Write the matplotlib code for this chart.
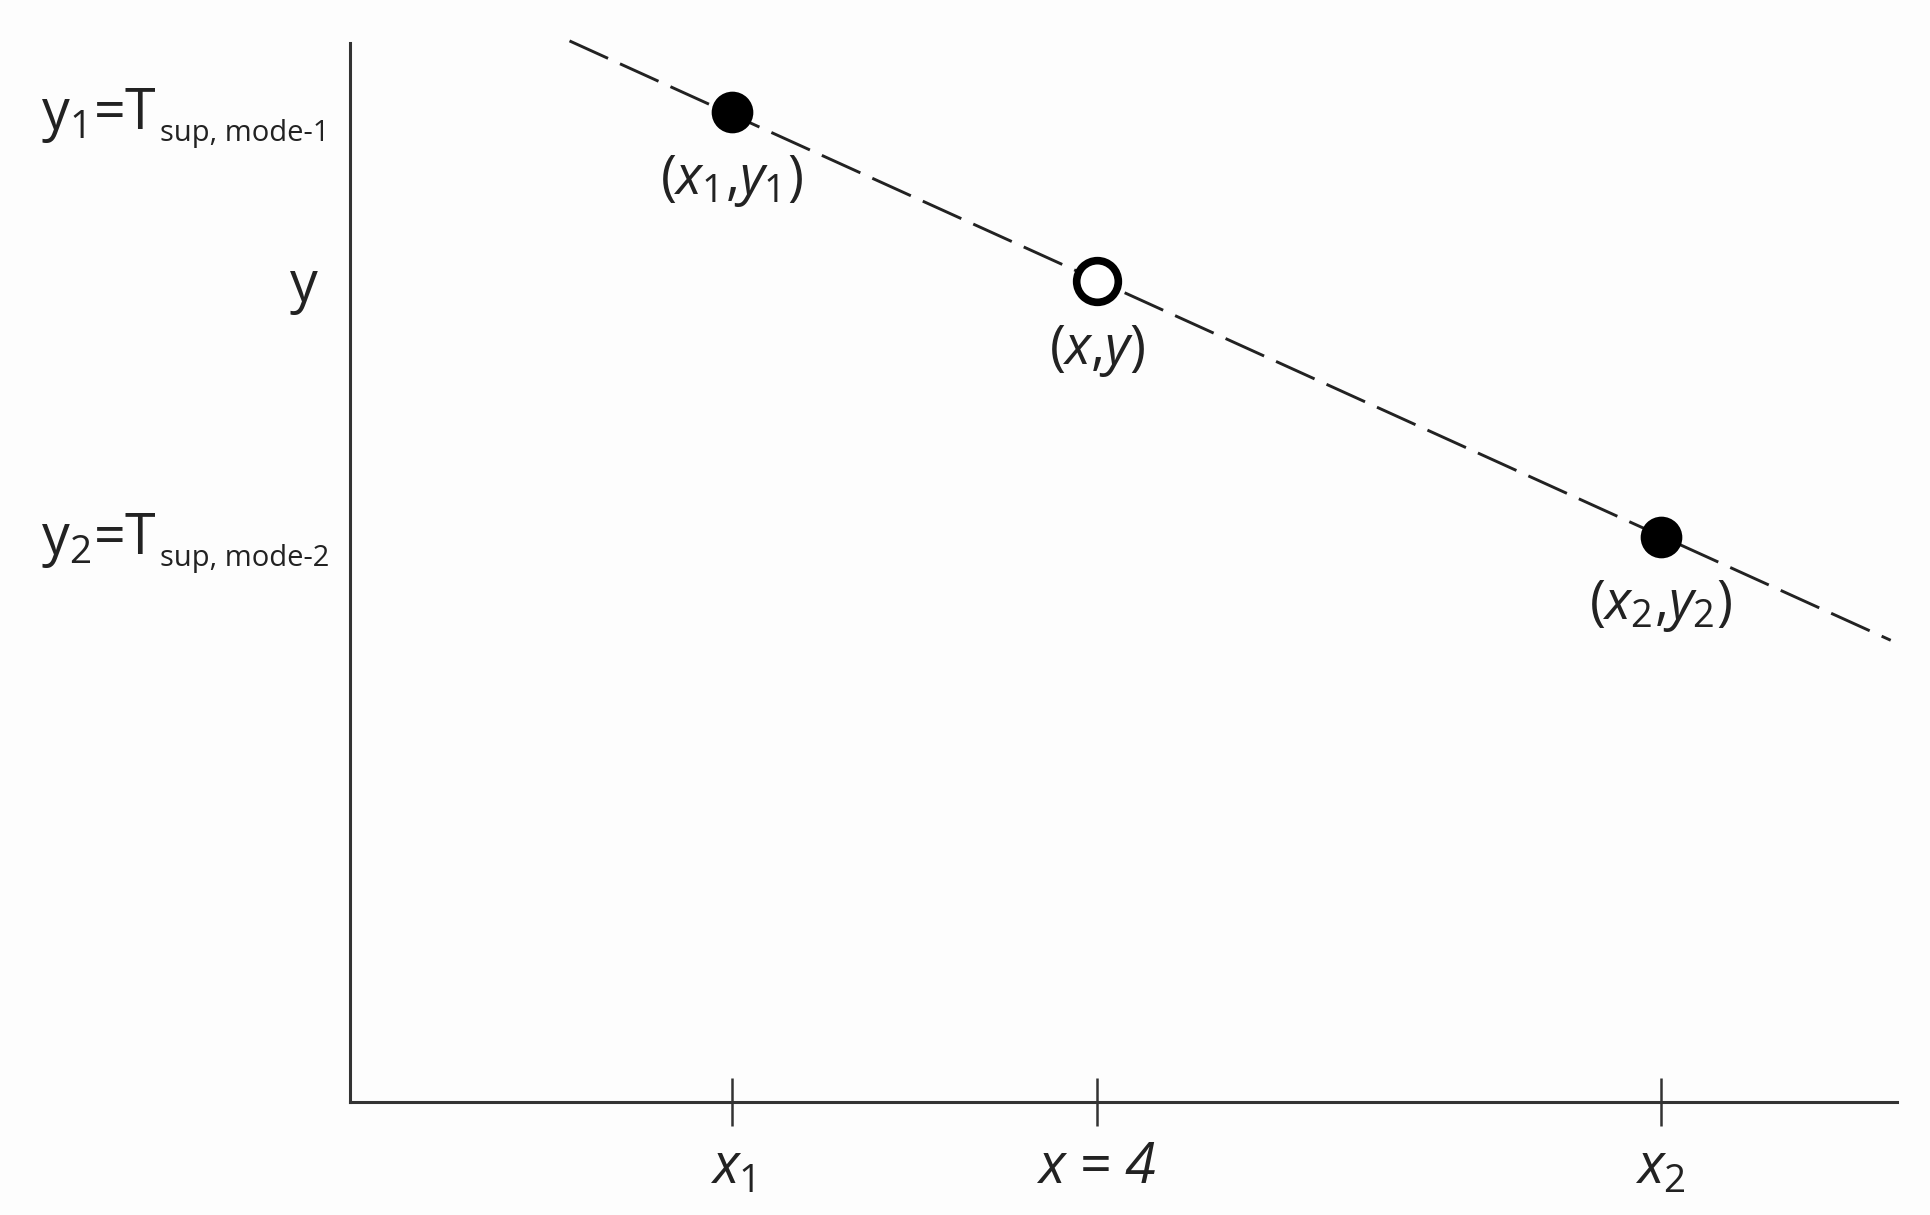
import matplotlib
matplotlib.use('Agg')
import matplotlib.pyplot as plt

# fonts: Myriad-like look
plt.rcParams['font.family'] = ['Open Sans', 'DejaVu Sans']
plt.rcParams['mathtext.fontset'] = 'custom'
plt.rcParams['mathtext.rm'] = 'Open Sans'
plt.rcParams['mathtext.it'] = 'Open Sans:italic'
plt.rcParams['mathtext.bf'] = 'Open Sans:bold'

# data (arbitrary units)
known_x = [2.0, 7.09]
known_y = [93.5, 53.4]
known_labels = [r'$\mathit{(}x_{\mathit{1}}{,}y_{\mathit{1}}\mathit{)}$',
                r'$\mathit{(}x_{\mathit{2}}{,}y_{\mathit{2}}\mathit{)}$']
interp_x = [4.0]
interp_y = [77.5]
interp_labels = [r'$\mathit{(}x{,}y\mathit{)}$']
line_x = [1.11, 8.35]
line_y = [100.2, 43.6]

xtick_pos = [2.0, 4.0, 7.09]
xtick_labels = [r'$x_{\mathit{1}}$', 'x = 4', r'$x_{\mathit{2}}$']

# y side labels: main part, subscript part, value
ylab_main = [r'$\mathrm{y}_1\text{=T}$', r'$\mathrm{y}_2\text{=T}$']
ylab_sub = ['sup, mode-1', 'sup, mode-2']
ylab_pos = [93.5, 53.4]

ink = '#222222'
axis_col = '#333333'

fig = plt.figure(figsize=(19.31, 12.15), dpi=100)
fig.patch.set_facecolor('#fdfdfd')
ax = fig.add_axes([0.18125, 0.0930, 0.8011, 0.8716])
ax.set_facecolor('#fdfdfd')

ax.set_xlim(-0.093, 8.384)
ax.set_ylim(0, 100)

for side in ['top', 'right']:
    ax.spines[side].set_visible(False)
for side in ['left', 'bottom']:
    ax.spines[side].set_linewidth(2.2)
    ax.spines[side].set_color(axis_col)

# dashed interpolation line
ax.plot(line_x, line_y, color=ink, linewidth=2.1, dashes=(14.5, 4.5), clip_on=False, zorder=2)

# known points (filled)
ax.plot(known_x, known_y, 'o', color='black', markersize=30, markeredgewidth=0, zorder=4)
# interpolated point (open)
ax.plot(interp_x, interp_y, 'o', markerfacecolor='white', markeredgecolor='black',
        markersize=30, markeredgewidth=5.5, zorder=4)

for x, y, lab in zip(known_x + interp_x, known_y + interp_y, known_labels + interp_labels):
    ax.annotate(lab, xy=(x, y), xytext=(0, -50), textcoords='offset points',
                ha='center', va='center', fontsize=39, color=ink)

ax.set_xticks(xtick_pos)
ax.set_xticklabels(xtick_labels)
ax.tick_params(axis='x', direction='inout', length=35, width=1.8, color=axis_col,
               pad=10, labelsize=40, labelcolor=ink)
for t in ax.get_xticklabels():
    t.set_fontstyle('italic')
ax.set_yticks([])

# left-hand labels
ytrans = ax.get_yaxis_transform()
for main, sub, y in zip(ylab_main, ylab_sub, ylab_pos):
    t = ax.annotate(main, xy=(-0.1997, y), xycoords=ytrans, xytext=(0, -12.5),
                    textcoords='offset points', ha='left', va='baseline',
                    fontsize=40, color=ink)
    ax.annotate(sub, xy=(1, 0), xycoords=t, xytext=(2, 3), textcoords='offset points',
                ha='left', va='baseline', fontsize=21, color=ink)

ax.annotate('y', xy=(-0.0297, interp_y[0]), xycoords=ytrans, xytext=(0, -14.5),
            textcoords='offset points', ha='center', va='baseline', fontsize=40, color=ink)

fig.savefig('out.png', dpi=100, facecolor=fig.get_facecolor())
